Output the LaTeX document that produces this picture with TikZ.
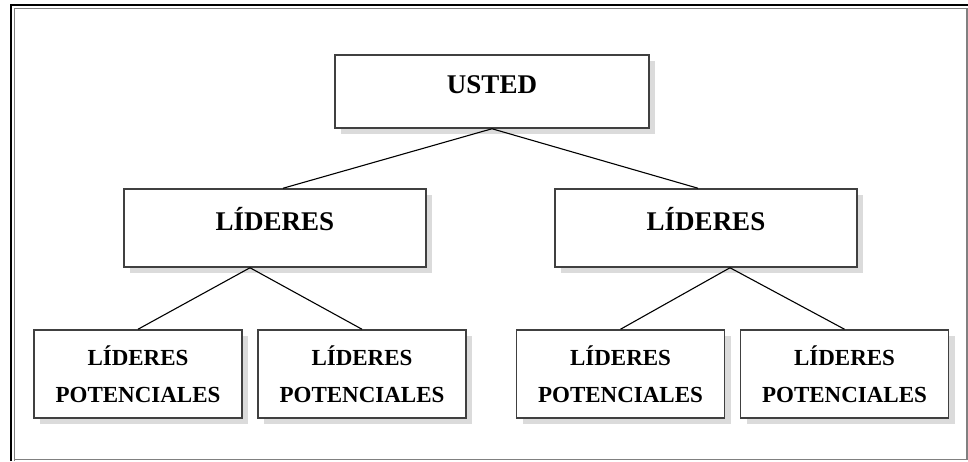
\documentclass[tikz,border=0pt]{standalone}
\usepackage{fontspec}
\setmainfont{Liberation Serif}
\usetikzlibrary{shadows}

\tikzset{
  caja/.style={rectangle, draw=black!75, line width=1.5pt, fill=white, inner sep=0pt,
    drop shadow={shadow xshift=6pt, shadow yshift=-6pt, fill=black!14, opacity=1}},
  grande/.style={caja, font=\fontsize{27}{32}\selectfont\bfseries, text height=20pt, text depth=16pt},
  chica/.style={caja, font=\fontsize{23}{37}\selectfont\bfseries, align=center,
    minimum width=208pt, minimum height=88pt},
  linea/.style={black, line width=1.1pt}
}

\begin{document}
\begin{tikzpicture}[x=1pt, y=-1pt]
  \useasboundingbox (0,0) rectangle (968,461);
  % marco
  \draw [black, line width=2.5pt] (11,461) -- (11,5) -- (968,5);
  \draw [black!50, line width=1.5pt] (14.5,461) -- (14.5,8.5) -- (967,8.5) -- (967,459.5) -- (14.5,459.5);

  % cajas
  \node [grande, minimum width=314pt, minimum height=73pt] (usted) at (492,91.5) {USTED};
  \node [grande, minimum width=302pt, minimum height=78pt] (lidA) at (275,228) {LÍDERES};
  \node [grande, minimum width=302pt, minimum height=78pt] (lidB) at (706,228) {LÍDERES};
  \node [chica] (potA) at (138,374) {LÍDERES\\POTENCIALES};
  \node [chica] (potB) at (362,374) {LÍDERES\\POTENCIALES};
  \node [chica] (potC) at (620.5,374) {LÍDERES\\POTENCIALES};
  \node [chica] (potD) at (844.5,374) {LÍDERES\\POTENCIALES};

  % lineas
  \draw [linea] (usted.south) -- ([xshift=8pt]lidA.north);
  \draw [linea] (usted.south) -- ([xshift=-8pt]lidB.north);
  \draw [linea] ([xshift=-25pt]lidA.south) -- (potA.north);
  \draw [linea] ([xshift=-25pt]lidA.south) -- (potB.north);
  \draw [linea] ([xshift=24pt]lidB.south) -- (potC.north);
  \draw [linea] ([xshift=24pt]lidB.south) -- (potD.north);
\end{tikzpicture}
\end{document}
